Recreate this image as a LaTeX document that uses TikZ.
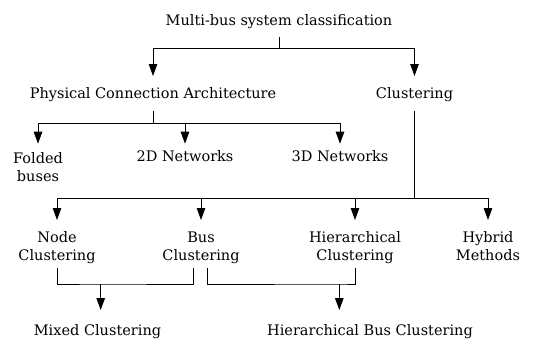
\documentclass[tikz,border=0pt]{standalone}
\usepackage{fontspec}
\setmainfont{DejaVu Serif}
\usetikzlibrary{arrows.meta,calc}
\begin{document}
\begin{tikzpicture}[x=1bp,y=-1bp,
  lbl/.style={anchor=base,inner sep=0pt,align=center,
    font=\fontsize{14.5bp}{18bp}\selectfont},
  line/.style={line width=1bp,line cap=rect},
  arr/.style={line width=1bp,-{Triangle[length=12bp,width=8.5bp]}}]
\useasboundingbox (0,0) rectangle (545,339);
% nodes (two-line nodes: base = baseline of last line)
\node[lbl] (title)  at (279,25)    {Multi-bus system classification};
\node[lbl] (pca)    at (153,98.5)  {Physical Connection Architecture};
\node[lbl] (clus)   at (414.5,98.5){Clustering};
\node[lbl] (folded) at (38,181.7)  {Folded\\buses};
\node[lbl] (net2)   at (185,161.7) {2D Networks};
\node[lbl] (net3)   at (340,161.7) {3D Networks};
\node[lbl] (nodecl) at (57,260)    {Node\\Clustering};
\node[lbl] (buscl)  at (201,260)   {Bus\\Clustering};
\node[lbl] (hier)   at (355,260)   {Hierarchical\\Clustering};
\node[lbl] (hyb)    at (488,260)   {Hybrid\\Methods};
\node[lbl] (mixed)  at (97.5,335)  {Mixed Clustering};
\node[lbl] (hbc)    at (370,335)   {Hierarchical Bus Clustering};
% helper coordinates
\coordinate (m1) at (100.7,284);
\coordinate (m2) at (339.3,284);
\coordinate (mixtop) at ([yshift=25bp]mixed.base);
\coordinate (hbctop) at ([yshift=25bp]hbc.base);
% level 1
\draw[line] ([yshift=-12bp]title.base) -- ++(0,11) coordinate (j0);
\draw[arr] (j0) -| ([yshift=22.5bp]pca.base);
\draw[arr] (j0) -| ([yshift=22.5bp]clus.base);
% physical connection
\draw[line] ([yshift=-12.5bp]pca.base) -- ++(0,12) coordinate (j1);
\draw[arr] (j1) -| ([yshift=38bp]folded.base);
\draw[arr] (j1) -| ([yshift=18bp]net2.base);
\draw[arr] (j1) -| ([yshift=18bp]net3.base);
% clustering
\draw[line] ([yshift=-12.5bp]clus.base) -- ++(0,87) coordinate (j2);
\draw[arr] (j2) -| ([yshift=40bp]nodecl.base);
\draw[arr] (j2) -| ([yshift=40bp]buscl.base);
\draw[arr] (j2) -| ([yshift=40bp]hier.base);
\draw[arr] (j2) -| ([yshift=40bp]hyb.base);
% combinations
\draw[line] ([yshift=-8.3bp]nodecl.base) |- (m1) -| ([xshift=-7.7bp,yshift=-8.3bp]buscl.base);
\draw[arr] (m1) -- (m1 |- mixtop);
\draw[line] ([xshift=6.3bp,yshift=-8.3bp]buscl.base) |- (m2) -| ([yshift=-8.3bp]hier.base);
\draw[arr] (m2) -- (m2 |- hbctop);
\end{tikzpicture}
\end{document}
